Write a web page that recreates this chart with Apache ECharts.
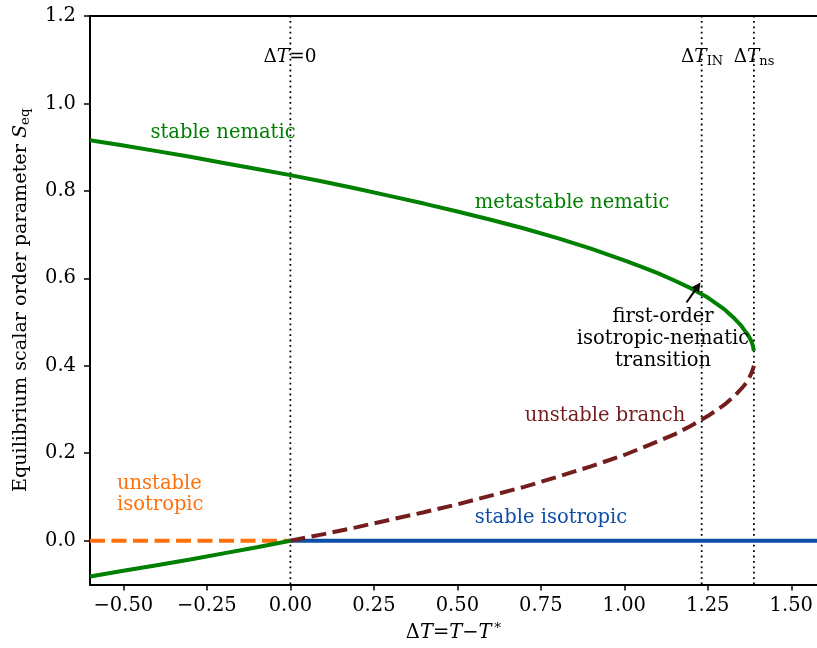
<!DOCTYPE html>
<html><head><meta charset="utf-8">
<script src="https://cdn.jsdelivr.net/npm/echarts@6/dist/echarts.min.js"></script>
<style>html,body{margin:0;padding:0;background:#fff}#c{width:817px;height:648px}</style>
</head><body><div id="c"></div>
<script>
// ---- data ----
const xTicks = [-0.5, -0.25, 0, 0.25, 0.5, 0.75, 1.0, 1.25, 1.5];
const yTicks = [0, 0.2, 0.4, 0.6, 0.8, 1.0, 1.2];

const nematicX = [-0.6,-0.5,-0.4,-0.3,-0.2,-0.1,0,0.1,0.2,0.3,0.4,0.5,0.6,0.7,0.8,0.9,1.0,1.05,1.1,1.15,1.2,1.25,1.3,1.31,1.33,1.34,1.35,1.36,1.37,1.375,1.38,1.385,1.388];
const nematicS = [0.916,0.904,0.891,0.878,0.864,0.850,0.836,0.821,0.805,0.788,0.771,0.753,0.734,0.714,0.692,0.668,0.641,0.627,0.612,0.595,0.577,0.556,0.529,0.522,0.508,0.500,0.492,0.481,0.471,0.464,0.457,0.446,0.434];

const lowerX = [-0.6,-0.5,-0.4,-0.3,-0.2,-0.1,0];
const lowerS = [-0.082,-0.069,-0.056,-0.043,-0.029,-0.015,0];

const unstableX = [0,0.1,0.2,0.3,0.4,0.5,0.6,0.7,0.8,0.9,1.0,1.1,1.15,1.2,1.25,1.3,1.33,1.35,1.36,1.37,1.375,1.38,1.385,1.388];
const unstableS = [0,0.015,0.031,0.048,0.065,0.083,0.103,0.123,0.146,0.170,0.196,0.227,0.243,0.263,0.285,0.311,0.331,0.347,0.356,0.367,0.374,0.382,0.392,0.400];

const isoUnstableX = [-0.6, 0];
const isoUnstableS = [0, 0];
const isoStableX = [0, 1.6];
const isoStableS = [0, 0];

const markerX = [0, 1.2317, 1.388];

// ---- chart ----
const FONT = 'DejaVu Serif';
const FS = 19.5;
const GREEN = '#008000', BLUE = '#0d4ea6', RED = '#741d1d', ORANGE = '#ff700a';
const zip = (xs, ys) => xs.map((x, i) => [x, ys[i]]);
const XMIN = -0.6, XMAX = 1.577, YMIN = -0.1, YMAX = 1.2;

const chart = echarts.init(document.getElementById('c'), null, {renderer: 'canvas'});

const series = [];
markerX.forEach(x => series.push({
  type: 'line', data: [[x, YMIN], [x, YMAX]], showSymbol: false, silent: true,
  lineStyle: {color: '#000', width: 1.8, type: [1.8, 3.6]}, z: 1
}));
series.push({type: 'line', data: zip(isoUnstableX, isoUnstableS), showSymbol: false,
  lineStyle: {color: ORANGE, width: 4, type: [15, 6.5]}, z: 2});
series.push({type: 'line', data: zip(isoStableX, isoStableS), showSymbol: false,
  lineStyle: {color: BLUE, width: 4}, z: 2});
series.push({type: 'line', data: zip(unstableX, unstableS), showSymbol: false,
  lineStyle: {color: RED, width: 4, type: [15, 6.5]}, z: 3});
series.push({type: 'line', data: zip(lowerX, lowerS), showSymbol: false,
  lineStyle: {color: GREEN, width: 4}, z: 4});
series.push({type: 'line', data: zip(nematicX, nematicS), showSymbol: false,
  lineStyle: {color: GREEN, width: 4}, z: 4});

const txt = (x, y, text, color, opts) => Object.assign({
  type: 'text', x: x, y: y, z: 100,
  style: Object.assign({text: text, fill: color, font: FS + 'px "' + FONT + '"', align: 'center', verticalAlign: 'middle'}, opts || {})
});

const mkRich = (fs) => ({
  n: {fontFamily: FONT, fontSize: fs, color: '#000'},
  i: {fontFamily: FONT, fontSize: fs, fontStyle: 'italic', color: '#000'},
  sub: {fontFamily: FONT, fontSize: fs * 0.7, color: '#000', padding: [fs * 0.46, 0, 0, 0]},
  sup: {fontFamily: FONT, fontSize: fs * 0.7, color: '#000', padding: [0, 0, fs * 0.46, 0]}
});
const richBase = mkRich(FS);
const richMark = mkRich(18.5);

const mkRichText = (x, y, text) => ({
  type: 'text', x: x, y: y, z: 100,
  style: {text: text, rich: richMark, align: 'center', verticalAlign: 'middle', fontFamily: FONT, fontSize: 18.5}
});

// arrow geometry (pixel)
const tail = [686.5, 302.5], tip = [700.5, 282.5];
const dx = tip[0]-tail[0], dy = tip[1]-tail[1], L = Math.hypot(dx, dy);
const ux = dx/L, uy = dy/L, hl = 9, hw = 4.5;
const bx = tip[0]-hl*ux, by = tip[1]-hl*uy;

chart.setOption({
  animation: false,
  backgroundColor: '#fff',
  grid: {left: 90, top: 16, right: 0, bottom: 63.6, containLabel: false},
  xAxis: [{
    type: 'value', min: XMIN, max: XMAX, position: 'bottom',
    axisLine: {show: true, onZero: false, lineStyle: {color: '#000', width: 2}},
    axisTick: {show: true, length: 6, lineStyle: {color: '#000', width: 1.5}, customValues: xTicks},
    axisLabel: {customValues: xTicks, fontFamily: FONT, fontSize: FS, color: '#000', margin: 12,
      formatter: v => (v < 0 ? '\u2212' : '') + Math.abs(v).toFixed(2)},
    splitLine: {show: false},
    name: '{n|Δ}{i|T}{n|=}{i|T}{n|\u2212}{i|T}{sup|\u2009*}',
    nameLocation: 'middle', nameGap: 37,
    nameTextStyle: {rich: richBase, fontFamily: FONT, fontSize: FS}
  }, {
    type: 'value', min: XMIN, max: XMAX, position: 'top',
    axisLine: {show: true, onZero: false, lineStyle: {color: '#000', width: 2}},
    axisTick: {show: false}, axisLabel: {show: false}, splitLine: {show: false}
  }],
  yAxis: {
    type: 'value', min: YMIN, max: YMAX,
    axisLine: {show: true, onZero: false, lineStyle: {color: '#000', width: 2}},
    axisTick: {show: true, length: 6, lineStyle: {color: '#000', width: 1.5}, customValues: yTicks},
    axisLabel: {customValues: yTicks, fontFamily: FONT, fontSize: FS, color: '#000', margin: 14,
      formatter: v => v.toFixed(1)},
    splitLine: {show: false},
    name: '{n|Equilibrium scalar order parameter }{i|S}{sub|eq}',
    nameLocation: 'middle', nameRotate: 90, nameGap: 58,
    nameTextStyle: {rich: mkRich(19.2), fontFamily: FONT, fontSize: 19.2}
  },
  series: series,
  graphic: [
    mkRichText(290, 57, '{n|Δ}{i|T}{n|=0}'),
    mkRichText(702, 57, '{n|Δ}{i|T}{sub|IN}'),
    mkRichText(754, 57, '{n|Δ}{i|T}{sub|ns}'),
    txt(223, 133, 'stable nematic', GREEN),
    txt(572, 203, 'metastable nematic', GREEN),
    txt(663, 339, 'first-order\nisotropic-nematic\ntransition', '#000', {lineHeight: 22}),
    txt(605, 416, 'unstable branch', RED),
    txt(117, 494, 'unstable\nisotropic', ORANGE, {align: 'left', lineHeight: 21}),
    txt(551, 518, 'stable isotropic', BLUE),
    {type: 'line', z: 100, shape: {x1: tail[0], y1: tail[1], x2: bx, y2: by}, style: {stroke: '#000', lineWidth: 2}},
    {type: 'polygon', z: 100, shape: {points: [[tip[0], tip[1]], [bx + hw*uy, by - hw*ux], [bx - hw*uy, by + hw*ux]]}, style: {fill: '#000'}}
  ]
});
</script></body></html>
